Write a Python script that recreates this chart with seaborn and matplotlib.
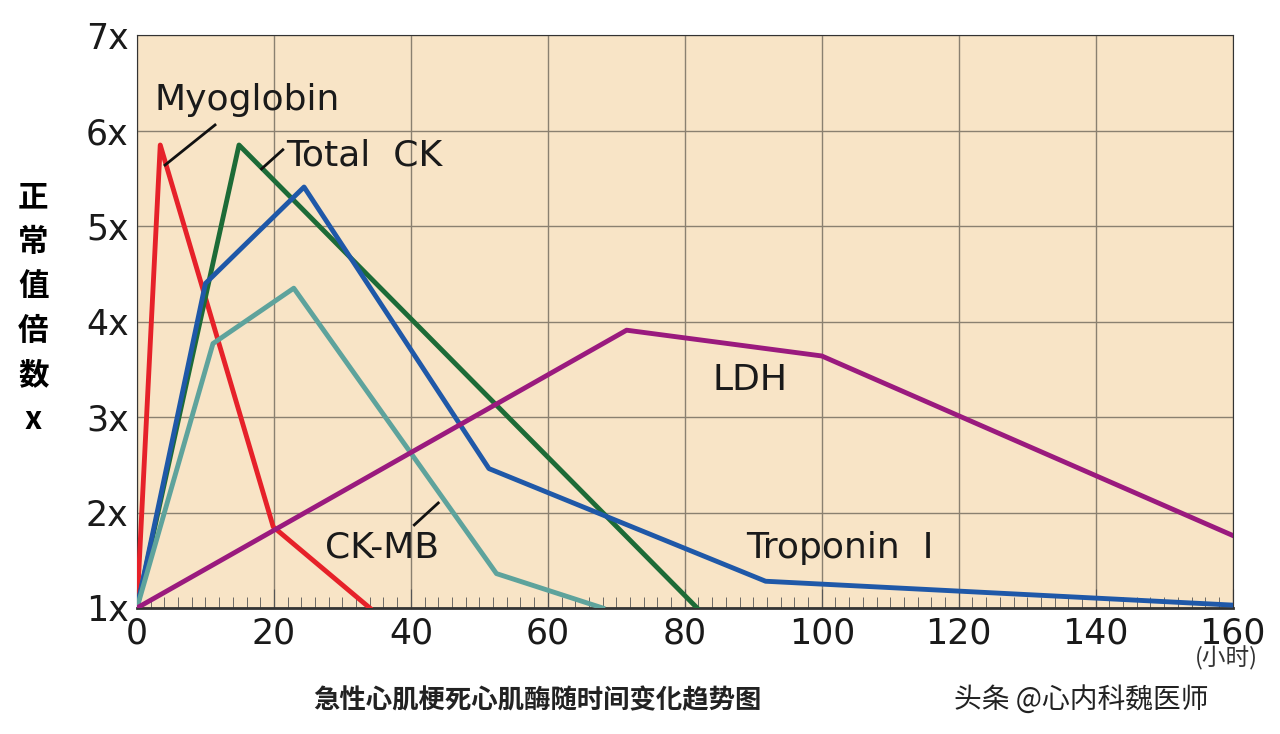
import matplotlib
matplotlib.use("Agg")
import matplotlib.pyplot as plt
import pandas as pd
import seaborn as sns

# hours / multiples of normal
MYO_X = [0, 3.4, 19.9, 34]
MYO_Y = [1, 5.85, 1.85, 1]
CK_X = [0, 14.9, 81.8]
CK_Y = [1, 5.85, 1]
TNI_X = [0, 10, 24.4, 51.4, 91.8, 160]
TNI_Y = [1, 4.4, 5.41, 2.46, 1.28, 1.03]
CKMB_X = [0, 11.1, 22.9, 52.5, 68]
CKMB_Y = [1, 3.77, 4.35, 1.36, 1]
LDH_X = [0, 71.5, 100, 160]
LDH_Y = [1, 3.91, 3.64, 1.76]

SERIES = {
    "Myoglobin": (MYO_X, MYO_Y, "#e62129"),
    "Total CK": (CK_X, CK_Y, "#1d6b37"),
    "Troponin I": (TNI_X, TNI_Y, "#1f58a8"),
    "CK-MB": (CKMB_X, CKMB_Y, "#5ea39c"),
    "LDH": (LDH_X, LDH_Y, "#9a1a7e"),
}

X_TICKS = [0, 20, 40, 60, 80, 100, 120, 140, 160]
Y_TICKS = [1, 2, 3, 4, 5, 6, 7]
Y_LABELS = ["1x", "2x", "3x", "4x", "5x", "6x", "7x"]

CJK = ["Noto Sans CJK JP", "Noto Sans CJK SC", "Noto Sans CJK TC", "DejaVu Sans"]

rows = []
for name, (xs, ys, _) in SERIES.items():
    rows += [{"name": name, "hour": x, "value": y} for x, y in zip(xs, ys)]
df = pd.DataFrame(rows)

fig = plt.figure(figsize=(12.8, 7.34), dpi=100)
ax = fig.add_axes([0.107, 0.1717, 0.856, 0.7803])
ax.set_facecolor("#f8e4c6")

sns.lineplot(data=df, x="hour", y="value", hue="name",
             palette={k: v[2] for k, v in SERIES.items()},
             linewidth=3.5, sort=False, legend=False, ax=ax, zorder=3)

ax.set_xlim(0, 160)
ax.set_ylim(1, 7)
ax.set_xticks(X_TICKS)
ax.set_xticks(range(0, 161, 2), minor=True)
ax.set_yticks(Y_TICKS)
ax.set_yticklabels(Y_LABELS)
ax.grid(True, which="major", color="#8a8070", linewidth=1)
ax.tick_params(axis="x", which="minor", direction="in", length=8, color="#555")
ax.tick_params(axis="x", which="major", direction="in", length=14, color="#555")
ax.tick_params(axis="y", length=0)
ax.tick_params(labelsize=25, pad=6, labelcolor="#1a1a1a")
for s in ax.spines.values():
    s.set_color("#333")
ax.spines["bottom"].set_linewidth(2)
ax.set_xlabel("")
ax.set_ylabel("")

lab = dict(fontsize=26, color="#1a1a1a", va="center")
ax.text(2.6, 6.32, "Myoglobin", **lab)
ax.plot([11.4, 4.1], [6.06, 5.64], color="#111", lw=2, zorder=4)
ax.text(21.8, 5.74, "Total  CK", **lab)
ax.plot([21.3, 18.2], [5.8, 5.6], color="#111", lw=2, zorder=4)
ax.text(27.5, 1.63, "CK-MB", **lab)
ax.plot([40.5, 44], [1.87, 2.1], color="#111", lw=2, zorder=4)
ax.text(84, 3.39, "LDH", **lab)
ax.text(89, 1.63, "Troponin  I", **lab)
ax.text(154.5, 0.4, "(小时)", fontsize=17, family=CJK,
        color="#333", clip_on=False)

fig.text(0.026, 0.58, "正\n常\n值\n倍\n数\nx", fontsize=22, fontweight="bold",
         family=CJK, ha="center", va="center", linespacing=1.5)
fig.text(0.42, 0.035, "急性心肌梗死心肌酶随时间变化趋势图", fontsize=19,
         fontweight="bold", family=CJK, ha="center", color="#222")
fig.text(0.745, 0.035, "头条 @心内科魏医师", fontsize=20,
         family=CJK, color="#222")

fig.savefig("out.png", dpi=100)
